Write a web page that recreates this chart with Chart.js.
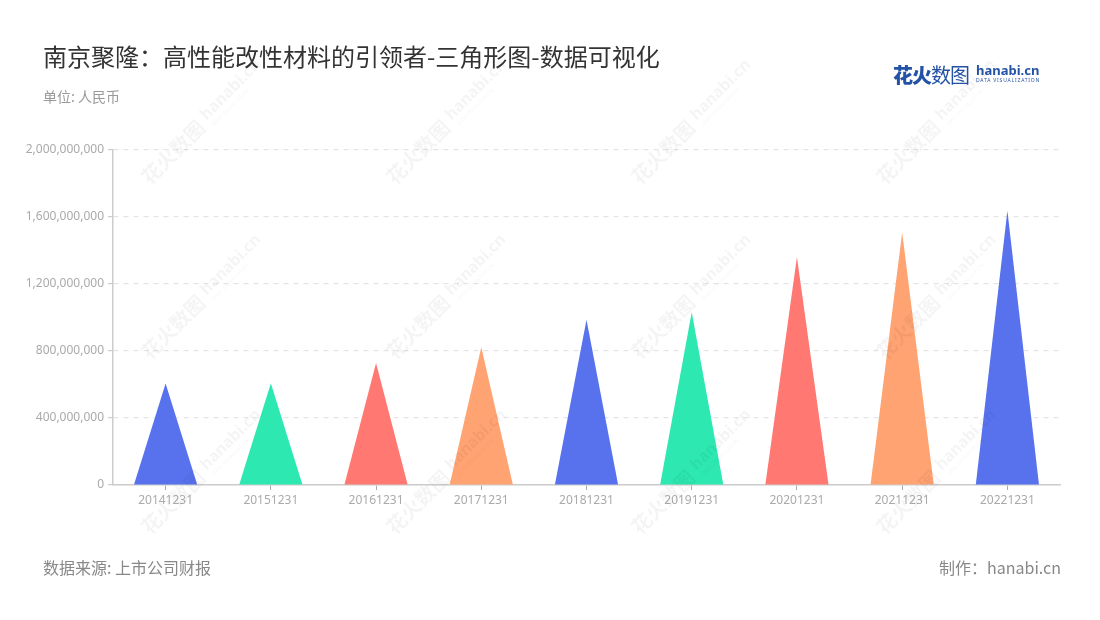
<!DOCTYPE html>
<html>
<head>
<meta charset="utf-8">
<script src="https://cdn.jsdelivr.net/npm/chart.js@4/dist/chart.umd.min.js"></script>
<style>
  body { margin: 0; background: #fff; font-family: "Noto Sans CJK SC", "Noto Sans", sans-serif; }
  #wrap { position: relative; width: 1100px; height: 620px; overflow: hidden; }
  #chart { position: absolute; left: 0; top: 0; }
  .txt { position: absolute; white-space: nowrap; }
  #title { left: 43px; top: 38px; font-size: 24px; color: #333; }
  #unit { left: 43px; top: 86px; font-size: 14px; color: #999; }
  #source { left: 43px; top: 555px; font-size: 16px; color: #888; }
  #maker { right: 39px; top: 555px; font-size: 16px; color: #888; }
  #logo { left: 893px; top: 60px; height: 24px; }
  #logo .cn { font-size: 20px; color: #2453a6; letter-spacing: -1px; }
  #logo .cn b { font-weight: 900; }
  #logo .en { position: absolute; left: 83px; top: 1px; font-family: "Noto Sans", sans-serif; font-weight: 700; font-size: 13px; color: #2453a6; }
  #logo .sub { position: absolute; left: 83px; top: 17px; font-family: "Noto Sans", sans-serif; font-size: 5px; color: #2453a6; letter-spacing: 0.8px; }
</style>
</head>
<body>
<div id="wrap">
  <canvas id="chart" width="1100" height="620"></canvas>
  <div class="txt" id="title">南京聚隆：高性能改性材料的引领者-三角形图-数据可视化</div>
  <div class="txt" id="unit">单位: 人民币</div>
  <div class="txt" id="source">数据来源: 上市公司财报</div>
  <div class="txt" id="maker">制作：hanabi.cn</div>
  <div class="txt" id="logo"><span class="cn"><b>花火</b>数图</span><span class="en">hanabi.cn</span><span class="sub">DATA VISUALIZATION</span></div>
</div>
<script>
const categories = ['20141231', '20151231', '20161231', '20171231', '20181231', '20191231', '20201231', '20211231', '20221231'];
const values = [606000000, 608000000, 729000000, 823000000, 986000000, 1032000000, 1361000000, 1508000000, 1637000000];
const colors = ['#5872ee', '#2de8b0', '#ff7872', '#ffa372', '#5872ee', '#2de8b0', '#ff7872', '#ffa372', '#5872ee'];

// draw each bar as a triangle from the bar element geometry
const trianglePlugin = {
  id: 'triangles',
  afterDatasetsDraw(chart) {
    const ctx = chart.ctx;
    const meta = chart.getDatasetMeta(0);
    ctx.save();
    meta.data.forEach((bar, i) => {
      const half = bar.width / 2;
      ctx.beginPath();
      ctx.moveTo(bar.x - half, bar.base);
      ctx.lineTo(bar.x, bar.y);
      ctx.lineTo(bar.x + half, bar.base);
      ctx.closePath();
      ctx.fillStyle = colors[i];
      ctx.fill();
    });
    ctx.restore();
  }
};

// faint rotated watermark
const watermarkPlugin = {
  id: 'watermark',
  afterDraw(chart) {
    const ctx = chart.ctx;
    ctx.save();
    ctx.fillStyle = 'rgba(0,0,0,0.045)';
    ctx.textBaseline = 'middle';
    for (let row = 0; row < 3; row++) {
      for (let col = 0; col < 4; col++) {
        const x = 180 + col * 245;
        const y = 145 + row * 175;
        ctx.save();
        ctx.translate(x, y);
        ctx.rotate(-Math.PI / 4);
        ctx.font = 'bold 20px "Noto Sans CJK SC"';
        ctx.fillText('花火数图', -50, 0);
        ctx.font = 'bold 16px "Noto Sans"';
        ctx.fillText('hanabi.cn', 36, -3);
        ctx.font = '5px "Noto Sans"';
        ctx.fillText('DATA VISUALIZATION', 38, 9);
        ctx.restore();
      }
    }
    ctx.restore();
  }
};

new Chart(document.getElementById('chart'), {
  type: 'bar',
  data: {
    labels: categories,
    datasets: [{
      data: values,
      backgroundColor: 'rgba(0,0,0,0)',
      barPercentage: 0.6,
      categoryPercentage: 1
    }]
  },
  options: {
    responsive: false,
    animation: false,
    layout: { padding: { left: 0, right: 40, top: 150, bottom: 105 } },
    plugins: { legend: { display: false }, tooltip: { enabled: false } },
    scales: {
      x: {
        afterFit(scale) { scale.height = 30; },
        grid: { drawOnChartArea: false, offset: false, tickLength: 5, color: '#aaa' },
        border: { color: '#ccc', width: 1.5 },
        ticks: { color: '#aaa', padding: 3, font: { family: 'Noto Sans', size: 12 } }
      },
      y: {
        min: 0,
        max: 2000000000,
        afterFit(scale) { scale.width = 113; },
        ticks: {
          stepSize: 400000000,
          color: '#aaa',
          padding: 4,
          font: { family: 'Noto Sans', size: 12 },
          callback: v => v.toLocaleString('en-US')
        },
        grid: { color: '#e4e4e4', tickLength: 5, tickColor: '#ccc', lineWidth: 1.2 },
        border: { color: '#ccc', width: 1.5, dash: [5, 5] }
      }
    }
  },
  plugins: [trianglePlugin, watermarkPlugin]
});
</script>
</body>
</html>
